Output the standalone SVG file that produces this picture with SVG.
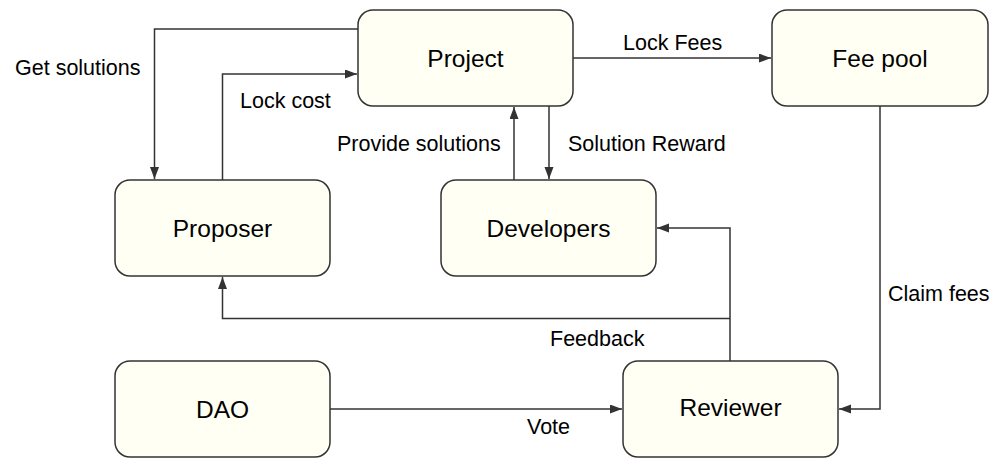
<svg xmlns="http://www.w3.org/2000/svg" width="1006" height="475" viewBox="0 0 1006 475">
<style>
.node rect{fill:#fffff4;stroke:#333;stroke-width:1.5}
.node text{font-family:"Liberation Sans",Arial,sans-serif;font-size:24.5px;fill:#000;text-anchor:middle}
.edge{fill:none;stroke:#333;stroke-width:1.5;marker-end:url(#arr)}
.plain{fill:none;stroke:#333;stroke-width:1.5}
.lbl{font-family:"Liberation Sans",Arial,sans-serif;font-size:21.5px;fill:#000}
</style>
<defs>
<marker id="arr" markerUnits="userSpaceOnUse" markerWidth="13" markerHeight="10" refX="12" refY="4.5" orient="auto">
<path d="M0,0 L12,4.5 L0,9 Z" fill="#333"/>
</marker>
</defs>
<rect width="1006" height="475" fill="#fff"/>
<g id="connectors">
<path class="edge" d="M358,29 H154.5 V179"/>
<path class="edge" d="M222.5,180 V74 H357"/>
<path class="edge" d="M514,180 V107"/>
<path class="edge" d="M549,106 V179"/>
<path class="edge" d="M573,58 H771"/>
<path class="edge" d="M880,106 V409 H839"/>
<path class="edge" d="M730,361 V228 H657"/>
<path class="edge" d="M730,318.5 H222.5 V277"/>
<path class="edge" d="M330,409 H622"/>
<text class="lbl" x="15" y="75">Get solutions</text>
<text class="lbl" x="240" y="108">Lock cost</text>
<text class="lbl" x="337" y="150.5">Provide solutions</text>
<text class="lbl" x="568" y="150.5">Solution Reward</text>
<text class="lbl" x="623" y="50">Lock Fees</text>
<text class="lbl" x="888" y="300.5">Claim fees</text>
<text class="lbl" x="550" y="345.5">Feedback</text>
<text class="lbl" x="527" y="434">Vote</text>
</g>
<g id="project" class="node"><rect x="358" y="10" width="215" height="96" rx="15"/><text x="465.5" y="66.5">Project</text></g>
<g id="feepool" class="node"><rect x="772" y="10" width="216" height="96" rx="15"/><text x="880" y="66.5">Fee pool</text></g>
<g id="proposer" class="node"><rect x="115" y="180" width="215" height="96" rx="15"/><text x="222.5" y="236.5">Proposer</text></g>
<g id="developers" class="node"><rect x="441" y="180" width="215" height="96" rx="15"/><text x="548.5" y="236.5">Developers</text></g>
<g id="dao" class="node"><rect x="115" y="361" width="215" height="96" rx="15"/><text x="222.5" y="417.5">DAO</text></g>
<g id="reviewer" class="node"><rect x="623" y="361" width="215" height="96" rx="15"/><text x="730.5" y="415.5">Reviewer</text></g>
</svg>
